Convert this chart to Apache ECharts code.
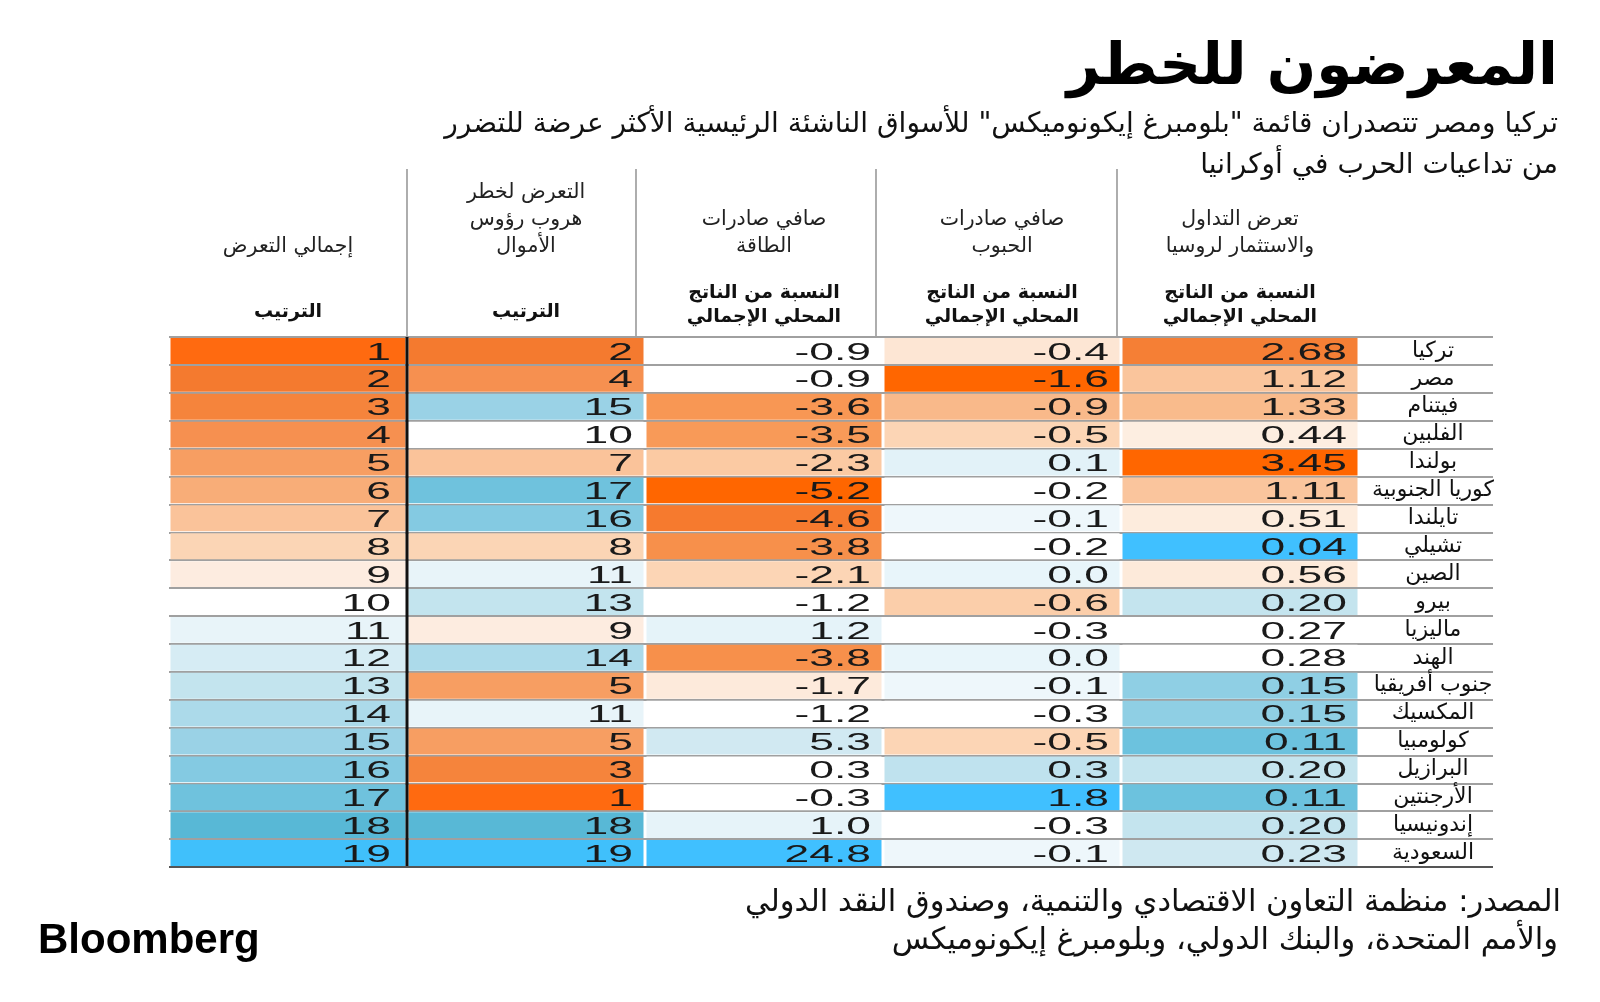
<!DOCTYPE html>
<html>
<head>
<meta charset="utf-8">
<script src="https://cdn.jsdelivr.net/npm/echarts@6/dist/echarts.min.js"></script>
<style>html,body{margin:0;padding:0;background:#fff}#c{width:1600px;height:1002px}</style>
</head>
<body>
<div id="c"></div>
<script>
// ---------------- DATA ----------------
const countries = ['تركيا','مصر','فيتنام','الفلبين','بولندا','كوريا الجنوبية','تايلندا','تشيلي','الصين','بيرو','ماليزيا','الهند','جنوب أفريقيا','المكسيك','كولومبيا','البرازيل','الأرجنتين','إندونيسيا','السعودية'];
const totalRank        = [1,2,3,4,5,6,7,8,9,10,11,12,13,14,15,16,17,18,19];
const capitalFlightRank= [2,4,15,10,7,17,16,8,11,13,9,14,5,11,5,3,1,18,19];
const energyExports    = [-0.9,-0.9,-3.6,-3.5,-2.3,-5.2,-4.6,-3.8,-2.1,-1.2,1.2,-3.8,-1.7,-1.2,5.3,0.3,-0.3,1.0,24.8];
const grainExports     = [-0.4,-1.6,-0.9,-0.5,0.1,-0.2,-0.1,-0.2,0.0,-0.6,-0.3,0.0,-0.1,-0.3,-0.5,0.3,1.8,-0.3,-0.1];
const russiaExposure   = [2.68,1.12,1.33,0.44,3.45,1.11,0.51,0.04,0.56,0.20,0.27,0.28,0.15,0.15,0.11,0.20,0.11,0.20,0.23];
const columnTitles = ['إجمالي التعرض','التعرض لخطر\nهروب رؤوس\nالأموال','صافي صادرات\nالطاقة','صافي صادرات\nالحبوب','تعرض التداول\nوالاستثمار لروسيا'];
const columnUnits  = ['الترتيب','الترتيب','النسبة من الناتج\nالمحلي الإجمالي','النسبة من الناتج\nالمحلي الإجمالي','النسبة من الناتج\nالمحلي الإجمالي'];
const columnDecimals = [0,0,1,1,2];
const titleText = 'المعرضون للخطر';
const subtitleLines = ['تركيا ومصر تتصدران قائمة "بلومبرغ إيكونوميكس" للأسواق الناشئة الرئيسية الأكثر عرضة للتضرر','من تداعيات الحرب في أوكرانيا'];
const sourceLines = ['المصدر: منظمة التعاون الاقتصادي والتنمية، وصندوق النقد الدولي','والأمم المتحدة، والبنك الدولي، وبلومبرغ إيكونوميكس'];

// ---------------- COLOUR SCALES ----------------
const rankPalette = ['#ff6a10','#f47a2f','#f5843c','#f69050','#f79e62','#f8ad78','#fac39a','#fbd5b5','#fdece0','#ffffff','#e8f4f9','#d6ecf4','#c3e4ee','#acdaea','#9ad2e6','#84cae2','#6fc2dd','#58b8d6','#40c0fb'];
const rankStops = rankPalette.map((c,i)=>[i+1,c]);
const energyStops = [[-5.2,'#ff6600'],[-4.6,'#f67a2e'],[-3.8,'#f7904b'],[-3.5,'#f89a58'],[-2.3,'#fbcaa3'],[-2.1,'#fcd5b5'],[-1.7,'#fdeadb'],[-1.25,'#ffffff'],[0.4,'#ffffff'],[1.0,'#e6f3f9'],[5.3,'#d1e9f2'],[24.8,'#40c0ff']];
const grainStops = [[-1.6,'#ff6600'],[-0.9,'#f9b98a'],[-0.5,'#fcd5b5'],[-0.4,'#fde6d4'],[-0.3,'#ffffff'],[-0.2,'#ffffff'],[-0.1,'#eef7fb'],[0.1,'#e2f2f8'],[0.3,'#bfe2ee'],[1.8,'#40c0ff']];
const russiaStops = [[0.04,'#40c0ff'],[0.11,'#6cc2de'],[0.15,'#8fcfe4'],[0.20,'#c4e4ee'],[0.23,'#cfe8f1'],[0.265,'#ffffff'],[0.3,'#ffffff'],[0.44,'#fdeee1'],[0.56,'#fdeada'],[1.11,'#fac59d'],[1.33,'#f9bb8c'],[2.68,'#f57f35'],[3.45,'#ff6600']];
const columnStops = [rankStops, rankStops, energyStops, grainStops, russiaStops];

function hex2rgb(h){return [parseInt(h.slice(1,3),16),parseInt(h.slice(3,5),16),parseInt(h.slice(5,7),16)];}
function scaleColor(stops, v){
  if (v <= stops[0][0]) return stops[0][1];
  if (v >= stops[stops.length-1][0]) return stops[stops.length-1][1];
  for (let i=0;i<stops.length-1;i++){
    const a=stops[i], b=stops[i+1];
    if (v>=a[0] && v<=b[0]){
      const t=(v-a[0])/(b[0]-a[0]); const ca=hex2rgb(a[1]), cb=hex2rgb(b[1]);
      return 'rgb('+ca.map((x,k)=>Math.round(x+(cb[k]-x)*t)).join(',')+')';
    }
  }
  return '#fff';
}

// ---------------- LAYOUT ----------------
const GRID_LEFT=169, GRID_TOP=337, GRID_W=1190, GRID_H=530;
const LABEL_COL_W=134;
const AR_FONT='"DejaVu Sans", "Noto Sans", sans-serif';

const columns=[totalRank,capitalFlightRank,energyExports,grainExports,russiaExposure];
const cellData=[];
columns.forEach((arr,ci)=>arr.forEach((v,ri)=>cellData.push([ci,ri,v])));

const chart=echarts.init(document.getElementById('c'),null,{renderer:'canvas'});
const COL_W=GRID_W/5;
const headerRuleX=[GRID_LEFT+COL_W, 636, 876, 1117];

const textLine=(txt,right,top,font)=>({type:'text',right:right,top:top,style:{text:txt,font:font,fill:'#111'}});

chart.setOption({
  animation:false,
  backgroundColor:'#fff',
  grid:{left:GRID_LEFT,top:GRID_TOP,width:GRID_W,height:GRID_H},
  xAxis:{
    type:'category', position:'top', data:columnTitles,
    axisLine:{show:false}, axisTick:{show:false}, splitLine:{show:false},
    axisLabel:{
      interval:0, margin:8,
      formatter:(v,i)=>{
        const u=columnUnits[i];
        return u.indexOf('\n')>=0 ? '{t|'+v+'}\n{g| }\n{b|'+u+'}' : '{t|'+v+'}\n{g2| }\n{r|'+u+'}';
      },
      rich:{
        t:{fontFamily:AR_FONT,fontSize:20.5,lineHeight:27,color:'#222',align:'center'},
        g:{fontSize:10,lineHeight:21},
        g2:{fontSize:10,lineHeight:35},
        b:{fontFamily:AR_FONT,fontSize:19,fontWeight:'bold',lineHeight:24,color:'#111',align:'center'},
        r:{fontFamily:AR_FONT,fontSize:19,fontWeight:'bold',lineHeight:34,color:'#111',align:'center'}
      }
    }
  },
  yAxis:{
    type:'category', inverse:true, position:'right', data:countries,
    axisLine:{show:false},
    axisTick:{show:true,interval:0,length:LABEL_COL_W,lineStyle:{color:'#a0a0a0',width:2}},
    splitLine:{show:true,interval:0,lineStyle:{color:'#a0a0a0',width:2}},
    axisLabel:{interval:0,hideOverlap:false,align:'center',margin:LABEL_COL_W/2+7,fontFamily:AR_FONT,fontSize:22,color:'#111'}
  },
  series:[{
    type:'custom',
    data:cellData,
    encode:{x:0,y:1},
    renderItem:(params,api)=>{
      const ci=api.value(0), ri=api.value(1), v=api.value(2);
      const c=api.coord([ci,ri]); const s=api.size([1,1]);
      const w=s[0], h=s[1];
      const pad = ci===0 ? 16 : 12;
      return {type:'group',children:[
        {type:'rect',shape:{x:c[0]-w/2+1.5,y:c[1]-h/2+1,width:w-3,height:h-2},style:{fill:scaleColor(columnStops[ci],v)}},
        {type:'text',x:c[0]+w/2-pad,y:c[1]+2,scaleX:1.85,
          style:{text:v.toFixed(columnDecimals[ci]),fontFamily:'"Liberation Sans", Arial, sans-serif',fontSize:24,fill:'#1a1a1a',
            align:'right',verticalAlign:'middle',textAlign:'right',textVerticalAlign:'middle'}}
      ]};
    }
  }],
  graphic:[
    {type:'text',right:42,top:40,style:{text:titleText,font:'bold 58px '+AR_FONT,fill:'#000'}},
    textLine(subtitleLines[0],42,111,'28px '+AR_FONT),
    textLine(subtitleLines[1],42,152,'28px '+AR_FONT),
    textLine(sourceLines[0],39,888,'30.5px '+AR_FONT),
    textLine(sourceLines[1],42,926,'30.5px '+AR_FONT),
    {type:'text',left:38,top:920,style:{text:'Bloomberg',font:'bold 42px "Liberation Sans", Arial, sans-serif',fill:'#000'}},
    ...headerRuleX.map(x=>({type:'line',shape:{x1:x,y1:169,x2:x,y2:GRID_TOP-1},style:{stroke:'#777',lineWidth:1.2}})),
    {type:'line',shape:{x1:GRID_LEFT+COL_W,y1:GRID_TOP,x2:GRID_LEFT+COL_W,y2:GRID_TOP+GRID_H},style:{stroke:'#111',lineWidth:3},z:10},
    {type:'line',shape:{x1:GRID_LEFT,y1:GRID_TOP+GRID_H,x2:GRID_LEFT+GRID_W+LABEL_COL_W,y2:GRID_TOP+GRID_H},style:{stroke:'#555',lineWidth:2},z:10}
  ]
});
</script>
</body>
</html>
